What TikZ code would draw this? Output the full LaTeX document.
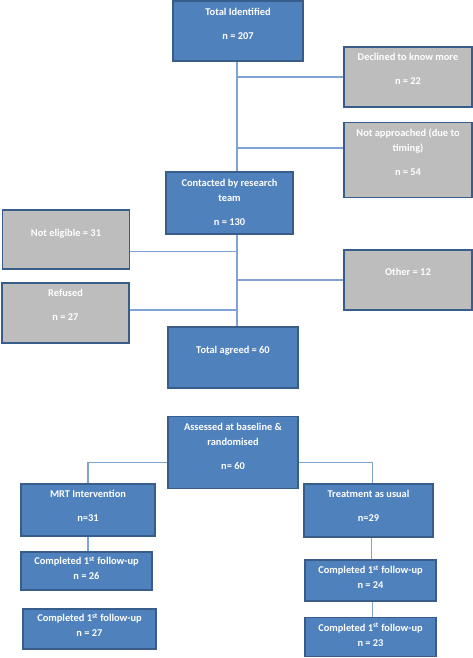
\documentclass[tikz,border=0pt]{standalone}
\usepackage{fontspec}
\setmainfont{Carlito}
\definecolor{boxblue}{HTML}{4F81BD}
\definecolor{boxline}{HTML}{385D8A}
\definecolor{boxgrey}{HTML}{BDBDBD}
\definecolor{linkblue}{HTML}{7FA3D4}
\tikzset{
	flowbox/.style = {draw = boxline, line width = 1.6pt, fill = boxblue, inner sep = 0pt},
	greybox/.style = {flowbox, fill = boxgrey},
	boxtext/.style = {anchor = north, inner sep = 0pt, align = center, text = white,
		font = \fontsize{10.4}{15}\selectfont\bfseries},
	link/.style = {draw = linkblue, line width = 1.1pt}
}
\begin{document}
\begin{tikzpicture}[x = 1pt, y = -1pt]
		\useasboundingbox (0,0) rectangle (473,658);
		% screening
		\node[flowbox, minimum width = 130, minimum height = 60, label = {[boxtext, yshift = -8]north:Total Identified\\[9pt]n = 207}] (Identified) at (238,31) {};
		\node[greybox, minimum width = 128, minimum height = 60, label = {[boxtext, yshift = -7]north:Declined to know more\\[9pt]n = 22}] (Declined) at (408,77) {};
		\node[greybox, minimum width = 128, minimum height = 75, label = {[boxtext, yshift = -7]north:Not approached (due to\\timing)\\[9pt]n = 54}] (NotApproached) at (408,160) {};
		\node[flowbox, minimum width = 127, minimum height = 62, label = {[boxtext, yshift = -8]north:Contacted by research\\team\\[9pt]n = 130}] (Contacted) at (229.5,203) {};
		\node[greybox, minimum width = 127, minimum height = 59, label = {[boxtext, yshift = -20]north:Not eligible = 31}] (NotEligible) at (66,239.5) {};
		\node[greybox, minimum width = 128, minimum height = 60, label = {[boxtext, yshift = -19]north:Other = 12}] (Other) at (408,280) {};
		\node[greybox, minimum width = 127, minimum height = 60, label = {[boxtext, yshift = -7]north:Refused\\[9pt]n = 27}] (Refused) at (65.5,313) {};
		\node[flowbox, minimum width = 130, minimum height = 61, label = {[boxtext, yshift = -20]north:Total agreed = 60}] (Agreed) at (233,357.5) {};
		% trial
		\node[flowbox, minimum width = 130, minimum height = 72, label = {[boxtext, yshift = -7]north:Assessed at baseline \&\\randomised\\[9pt]n= 60}] (Randomised) at (233,452.5) {};
		\node[flowbox, minimum width = 134, minimum height = 52, label = {[boxtext, yshift = -7]north:MRT Intervention\\[9pt]n=31}] (MRT) at (88,510) {};
		\node[flowbox, minimum width = 129, minimum height = 53, label = {[boxtext, yshift = -7]north:Treatment as usual\\[9pt]n=29}] (TAU) at (368.5,510.5) {};
		\node[flowbox, minimum width = 131, minimum height = 38, label = {[boxtext, yshift = -5]north:Completed 1\textsuperscript{st} follow-up\\n = 26}] (MRTa) at (86.5,571) {};
		\node[flowbox, minimum width = 133, minimum height = 40, label = {[boxtext, yshift = -5]north:Completed 1\textsuperscript{st} follow-up\\n = 27}] (MRTb) at (89.5,629) {};
		\node[flowbox, minimum width = 131, minimum height = 41, label = {[boxtext, yshift = -6]north:Completed 1\textsuperscript{st} follow-up\\n = 24}] (TAUa) at (370.5,580.5) {};
		\node[flowbox, minimum width = 131, minimum height = 39, label = {[boxtext, yshift = -6]north:Completed 1\textsuperscript{st} follow-up\\n = 23}] (TAUb) at (370.5,637) {};
		% links
		\draw[link] ([xshift = -1]Identified.south) -- ([xshift = -1]Identified.south |- Contacted.north);
		\draw[link] (Declined.west) -- ([xshift = -1]Declined.west -| Identified.south);
		\draw[link] ([yshift = 12]NotApproached.west) -- ([xshift = -1, yshift = 12]NotApproached.west -| Identified.south);
		\draw[link] ([xshift = 4]Contacted.south -| Agreed.north) -- ([xshift = 4]Agreed.north);
		\draw[link] ([yshift = -12]NotEligible.east) -- ([xshift = 4, yshift = -12]NotEligible.east -| Agreed.north);
		\draw[link] (Other.west) -- ([xshift = 4]Other.west -| Agreed.north);
		\draw[link] ([yshift = 3]Refused.east) -- ([xshift = 4, yshift = 3]Refused.east -| Agreed.north);
		\draw[link] ([yshift = -10]Randomised.west) -| (MRT.north);
		\draw[link] ([yshift = -10]Randomised.east) -| ([xshift = 4]TAU.north);
		\draw[link] (MRT.south) -- (MRT.south |- MRTa.north);
		\draw[link] ([xshift = 3]TAU.south) -- ([xshift = 3]TAU.south |- TAUa.north);
		\draw[link] ([xshift = 2]TAUa.south) -- ([xshift = 2]TAUa.south |- TAUb.north);
\end{tikzpicture}
\end{document}
